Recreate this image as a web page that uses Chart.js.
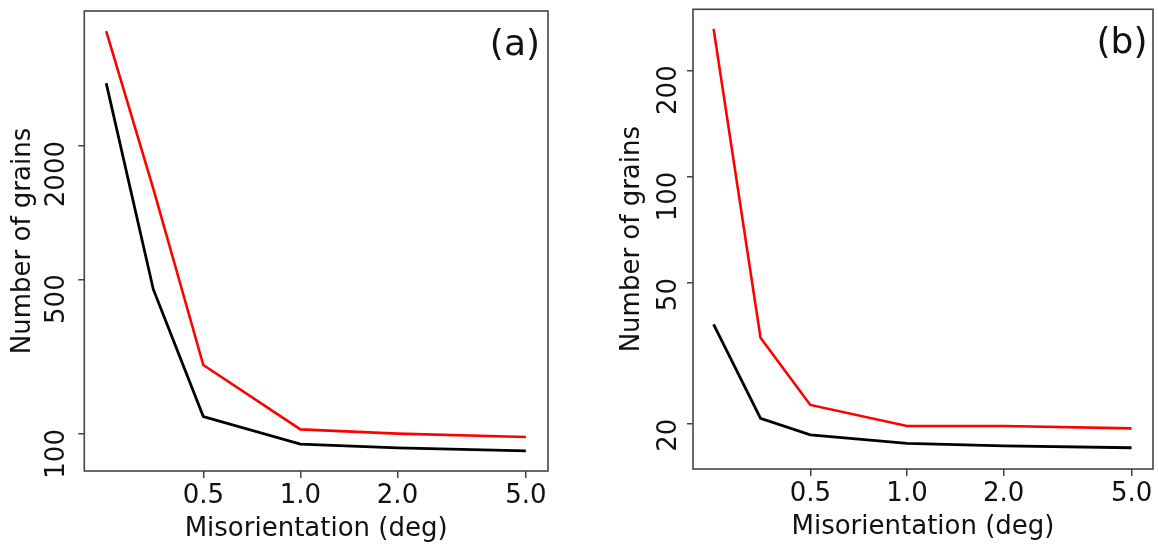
<!DOCTYPE html>
<html><head><meta charset="utf-8">
<script src="https://cdn.jsdelivr.net/npm/chart.js@4.4.1/dist/chart.umd.min.js"></script>
<style>
html,body{margin:0;padding:0;background:#fff;}
#wrap{position:relative;width:1158px;height:550px;overflow:hidden;}
canvas{position:absolute;left:0;top:0;}
</style></head><body>
<div id="wrap"><canvas id="ca" width="1158" height="550"></canvas><canvas id="cb" width="1158" height="550"></canvas></div>
<script>
// ---- data ----
const misorientation = [0.25, 0.35, 0.5, 1.0, 2.0, 5.0];
const grainsA_red   = [6600, 1280, 205, 105, 100.5, 97];
const grainsA_black = [3850, 450, 120, 90, 86.7, 84];
const grainsB_red   = [262, 35, 22.6, 19.7, 19.7, 19.4];
const grainsB_black = [38.2, 20.7, 18.6, 17.6, 17.3, 17.1];
const xTickValues = [0.5, 1.0, 2.0, 5.0];
const yTicksA = [100, 500, 2000];
const yTicksB = [20, 50, 100, 200];
const panelLabels = ['(a)', '(b)'];
const xTitle = 'Misorientation (deg)';
const yTitle = 'Number of grains';

const FONT = 'DejaVu Sans';
const TXT = '#111';
const FRAME = '#444';
Chart.defaults.font.family = FONT;

function pts(xs, ys){ return xs.map((x,i)=>({x:x, y:ys[i]})); }

function makeChart(id, red, black, yTicks, yMin, yMax, xMin, xMax, g){
  const overlay = {
    id: 'overlay_' + id,
    afterDraw(chart){
      const ctx = chart.ctx, a = chart.chartArea;
      ctx.save();
      ctx.strokeStyle = FRAME; ctx.lineWidth = 1.6;
      ctx.strokeRect(a.left, a.top, a.right - a.left, a.bottom - a.top);
      // rotated y tick labels
      const ys = chart.scales.y;
      ctx.fillStyle = TXT;
      ctx.font = '26px "' + FONT + '"';
      ctx.textAlign = 'right'; ctx.textBaseline = 'alphabetic';
      yTicks.forEach(v => {
        const py = ys.getPixelForValue(v);
        ctx.save();
        ctx.translate(g.yLabX, py - 5);
        ctx.rotate(-Math.PI/2);
        ctx.fillText(String(v), 0, 0);
        ctx.restore();
      });
      // panel label
      ctx.font = '36px "' + FONT + '"';
      ctx.textAlign = 'right';
      ctx.fillText(g.label, g.labX, g.labY);
      ctx.restore();
    }
  };
  return new Chart(document.getElementById(id), {
    type: 'line',
    data: { datasets: [
      { data: pts(misorientation, red), borderColor: '#ff0000', borderWidth: 2.6, pointRadius: 0, fill: false, tension: 0 },
      { data: pts(misorientation, black), borderColor: '#000000', borderWidth: 2.8, pointRadius: 0, fill: false, tension: 0 }
    ]},
    options: {
      responsive: false, animation: false,
      layout: { padding: { left: g.padL, right: g.padR, top: g.padT, bottom: 0 } },
      plugins: { legend: { display: false }, tooltip: { enabled: false } },
      scales: {
        x: {
          type: 'logarithmic', position: 'bottom', min: xMin, max: xMax, bounds: 'data',
          afterBuildTicks: s => { s.ticks = xTickValues.map(v => ({ value: v })); },
          afterFit: s => { s.height = g.xH; },
          grid: { drawOnChartArea: false, drawTicks: true, tickLength: 7, color: FRAME, lineWidth: 1.5 },
          border: { display: false },
          ticks: { color: TXT, font: { size: 26, family: FONT }, padding: 3, maxRotation: 0, autoSkip: false,
                   callback: v => Number(v).toFixed(1) },
          title: { display: true, text: xTitle, color: TXT, font: { size: 26, family: FONT },
                   padding: { top: 0, bottom: g.xTitlePad } }
        },
        y: {
          type: 'logarithmic', position: 'left', min: yMin, max: yMax, bounds: 'data',
          afterBuildTicks: s => { s.ticks = yTicks.map(v => ({ value: v })); },
          afterFit: s => { s.width = g.yW; },
          grid: { drawOnChartArea: false, drawTicks: true, tickLength: 6, color: FRAME, lineWidth: 1.5 },
          border: { display: false },
          ticks: { display: false },
          title: { display: true, text: yTitle, color: TXT, font: { size: 26, family: FONT },
                   padding: { top: g.yTitlePad, bottom: 0 } }
        }
      }
    },
    plugins: [overlay]
  });
}

makeChart('ca', grainsA_red, grainsA_black, yTicksA, 68.1, 8147, 0.2138, 5.856,
  { padL: 0, padR: 610, padT: 11, yW: 84.3, xH: 79, yTitlePad: 7.7, xTitlePad: 5.1, yLabX: 64,
    label: panelLabels[0], labX: 540, labY: 55.4 });
makeChart('cb', grainsB_red, grainsB_black, yTicksB, 14.89, 297.6, 0.2157, 5.83,
  { padL: 600, padR: 5, padT: 9.3, yW: 93, xH: 81, yTitlePad: 17.1, xTitlePad: 7.4, yLabX: 676,
    label: panelLabels[1], labX: 1147.5, labY: 53.4 });
</script>
</body></html>
